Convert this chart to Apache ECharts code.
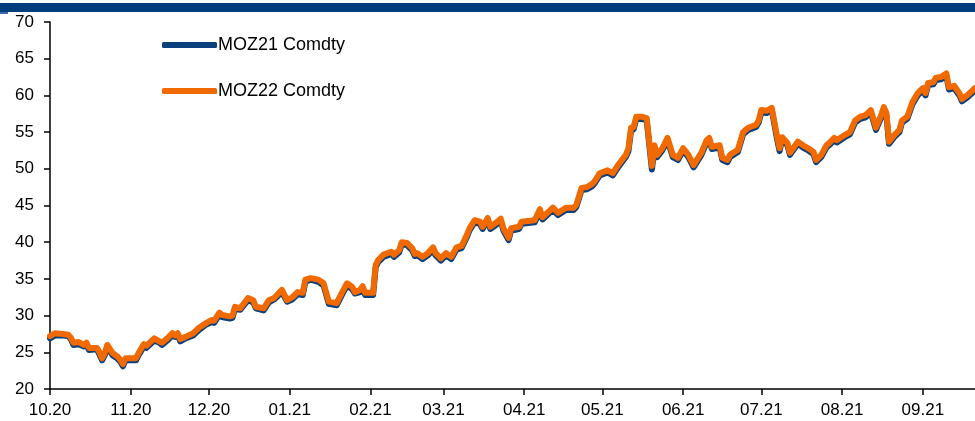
<!DOCTYPE html>
<html lang="en">

<head>
  <meta charset="UTF-8">
  <title>MOZ21 / MOZ22</title>
  <style>
    html, body { margin: 0; padding: 0; background: #fff; }
  </style>
</head>

<body>
  <div id="main" style="width: 975px;height:421px;"></div>

  <script src="https://cdn.jsdelivr.net/npm/echarts@6.0.0/dist/echarts.min.js"></script>

  <script type="text/javascript">
    // dates of the read-off points, one line per month
    var dates = [
      '2020-10-01', '2020-10-03', '2020-10-06', '2020-10-08', '2020-10-09', '2020-10-10', '2020-10-12', '2020-10-14', '2020-10-15', '2020-10-16', '2020-10-19', '2020-10-20', '2020-10-21', '2020-10-22', '2020-10-23', '2020-10-25', '2020-10-27', '2020-10-28', '2020-10-29', '2020-10-30',
      '2020-11-03', '2020-11-04', '2020-11-06', '2020-11-07', '2020-11-10', '2020-11-12', '2020-11-13', '2020-11-15', '2020-11-17', '2020-11-18', '2020-11-19', '2020-11-20', '2020-11-22', '2020-11-25', '2020-11-27', '2020-11-30',
      '2020-12-02', '2020-12-03', '2020-12-05', '2020-12-06', '2020-12-09', '2020-12-10', '2020-12-11', '2020-12-13', '2020-12-16', '2020-12-18', '2020-12-19', '2020-12-22', '2020-12-24', '2020-12-26', '2020-12-29', '2020-12-31',
      '2021-01-02', '2021-01-04', '2021-01-06', '2021-01-07', '2021-01-09', '2021-01-12', '2021-01-14', '2021-01-16', '2021-01-19', '2021-01-21', '2021-01-23', '2021-01-25', '2021-01-26', '2021-01-28', '2021-01-29', '2021-01-30',
      '2021-02-02', '2021-02-03', '2021-02-04', '2021-02-06', '2021-02-09', '2021-02-10', '2021-02-12', '2021-02-13', '2021-02-15', '2021-02-17', '2021-02-18', '2021-02-19', '2021-02-21', '2021-02-23', '2021-02-25', '2021-02-26', '2021-02-28',
      '2021-03-02', '2021-03-04', '2021-03-06', '2021-03-08', '2021-03-10', '2021-03-11', '2021-03-13', '2021-03-15', '2021-03-16', '2021-03-18', '2021-03-19', '2021-03-21', '2021-03-23', '2021-03-24', '2021-03-26', '2021-03-27', '2021-03-30', '2021-03-31',
      '2021-04-05', '2021-04-07', '2021-04-08', '2021-04-12', '2021-04-14', '2021-04-17', '2021-04-20', '2021-04-21', '2021-04-23', '2021-04-25', '2021-04-27', '2021-04-28', '2021-04-30',
      '2021-05-03', '2021-05-05', '2021-05-07', '2021-05-10', '2021-05-11', '2021-05-12', '2021-05-13', '2021-05-14', '2021-05-16', '2021-05-18', '2021-05-20', '2021-05-21', '2021-05-22', '2021-05-24', '2021-05-26', '2021-05-28', '2021-05-30',
      '2021-06-01', '2021-06-03', '2021-06-05', '2021-06-08', '2021-06-10', '2021-06-11', '2021-06-12', '2021-06-15', '2021-06-16', '2021-06-18', '2021-06-19', '2021-06-22', '2021-06-24', '2021-06-26', '2021-06-29', '2021-06-30',
      '2021-07-01', '2021-07-03', '2021-07-05', '2021-07-07', '2021-07-08', '2021-07-09', '2021-07-11', '2021-07-12', '2021-07-15', '2021-07-17', '2021-07-19', '2021-07-21', '2021-07-22', '2021-07-24', '2021-07-26', '2021-07-27', '2021-07-29', '2021-07-30',
      '2021-08-02', '2021-08-04', '2021-08-06', '2021-08-08', '2021-08-10', '2021-08-12', '2021-08-14', '2021-08-16', '2021-08-17', '2021-08-18', '2021-08-19', '2021-08-21', '2021-08-23', '2021-08-24', '2021-08-26', '2021-08-28', '2021-08-30',
      '2021-09-01', '2021-09-02', '2021-09-03', '2021-09-05', '2021-09-06', '2021-09-08', '2021-09-10', '2021-09-11', '2021-09-13', '2021-09-15', '2021-09-16', '2021-09-18', '2021-09-21'
    ];

    var moz21 = [
      26.9, 27.3, 27.3, 27.2, 26.8, 26.0, 26.1, 25.8, 26.0, 25.3, 25.4, 24.7, 23.9, 24.6, 25.7, 24.6, 24.1, 23.7, 23.1, 23.9,
      23.9, 24.6, 25.8, 25.6, 26.6, 26.3, 26.0, 26.6, 27.3, 27.1, 27.4, 26.5, 26.9, 27.3, 28.0, 28.8,
      29.1, 29.0, 30.1, 29.8, 29.6, 29.7, 30.9, 30.8, 32.1, 31.8, 31.0, 30.7, 31.8, 32.2, 33.2, 31.9,
      32.2, 32.9, 32.8, 34.6, 34.9, 34.6, 34.1, 31.6, 31.4, 32.8, 34.1, 33.6, 33.0, 33.2, 33.7, 32.8,
      32.8, 36.6, 37.3, 38.0, 38.4, 38.0, 38.6, 39.7, 39.6, 38.9, 38.1, 38.2, 37.7, 38.2, 39.0, 38.2, 37.5,
      38.2, 37.7, 39.0, 39.2, 40.7, 41.6, 42.7, 42.5, 41.8, 43.0, 41.8, 42.3, 42.9, 41.6, 40.3, 41.6, 41.8, 42.5,
      42.7, 44.2, 43.1, 44.4, 43.7, 44.4, 44.4, 44.8, 47.1, 47.2, 47.6, 48.0, 49.1,
      49.5, 49.1, 50.2, 51.6, 52.4, 55.2, 55.4, 56.8, 56.8, 56.6, 49.9, 52.8, 51.6, 52.5, 53.9, 51.6, 51.2,
      52.5, 51.6, 50.2, 51.9, 53.6, 53.9, 52.7, 52.9, 51.2, 50.9, 51.6, 52.3, 54.7, 55.3, 55.7, 56.3,
      57.7, 57.6, 58.0, 54.1, 52.4, 54.0, 53.2, 51.9, 53.4, 52.9, 52.5, 52.0, 50.9, 51.6, 52.9, 53.2, 53.9, 53.6,
      54.3, 54.7, 56.3, 56.8, 57.0, 57.7, 55.3, 57.0, 58.1, 57.3, 53.4, 54.3, 55.0, 56.3, 56.8, 58.8, 60.0,
      60.7, 60.0, 61.4, 61.5, 62.1, 62.2, 62.7, 60.8, 61.0, 60.0, 59.2, 59.7, 60.7
    ];

    var moz22 = [
      27.2, 27.6, 27.5, 27.4, 27.0, 26.3, 26.4, 26.0, 26.3, 25.6, 25.6, 25.0, 24.2, 24.9, 26.0, 24.9, 24.4, 24.0, 23.4, 24.2,
      24.2, 24.9, 26.1, 25.9, 26.9, 26.5, 26.3, 26.9, 27.6, 27.3, 27.6, 26.8, 27.1, 27.6, 28.3, 29.0,
      29.4, 29.3, 30.4, 30.1, 29.9, 30.0, 31.2, 31.0, 32.4, 32.1, 31.2, 31.0, 32.1, 32.4, 33.5, 32.1,
      32.5, 33.2, 33.1, 34.9, 35.1, 34.9, 34.4, 31.9, 31.7, 33.1, 34.4, 33.9, 33.2, 33.5, 34.0, 33.1,
      33.1, 36.9, 37.6, 38.3, 38.7, 38.3, 38.9, 40.0, 39.9, 39.2, 38.4, 38.5, 38.0, 38.5, 39.3, 38.5, 37.8,
      38.5, 38.0, 39.3, 39.5, 41.0, 41.9, 43.0, 42.8, 42.1, 43.3, 42.1, 42.6, 43.2, 41.9, 40.6, 41.9, 42.1, 42.8,
      43.0, 44.5, 43.4, 44.7, 44.0, 44.7, 44.7, 45.1, 47.4, 47.5, 47.9, 48.3, 49.4,
      49.8, 49.4, 50.5, 51.9, 52.8, 55.6, 55.7, 57.1, 57.1, 56.9, 50.4, 53.2, 51.9, 52.8, 54.2, 51.9, 51.5,
      52.8, 51.9, 50.5, 52.2, 53.9, 54.2, 53.0, 53.2, 51.5, 51.2, 51.9, 52.6, 55.0, 55.6, 56.0, 56.6,
      58.0, 57.9, 58.3, 54.5, 52.8, 54.3, 53.5, 52.2, 53.7, 53.2, 52.8, 52.3, 51.2, 51.9, 53.2, 53.5, 54.2, 53.9,
      54.6, 55.0, 56.6, 57.1, 57.3, 58.0, 55.6, 57.3, 58.4, 57.6, 53.7, 54.6, 55.3, 56.6, 57.1, 59.1, 60.3,
      61.0, 60.3, 61.7, 61.8, 62.4, 62.5, 63.0, 61.1, 61.3, 60.3, 59.5, 60.0, 61.0
    ];

    var tickDates = ['2020-10-01', '2020-11-01', '2020-12-01', '2021-01-01', '2021-02-01', '2021-03-01',
      '2021-04-01', '2021-05-01', '2021-06-01', '2021-07-01', '2021-08-01', '2021-09-01'];
    var tickLabels = ['10.20', '11.20', '12.20', '01.21', '02.21', '03.21',
      '04.21', '05.21', '06.21', '07.21', '08.21', '09.21'];

    var names = ['MOZ21 Comdty', 'MOZ22 Comdty'];
    var colors = ['#0b3f7e', '#f06a00'];
    var font = 'Liberation Sans, Arial, sans-serif';

    // days since start, used as a plain value axis
    var DAY = 24 * 3600 * 1000;
    var t0 = Date.UTC(2020, 9, 1);
    function dayOf(s) {
      var p = s.split('-');
      return Math.round((Date.UTC(+p[0], +p[1] - 1, +p[2]) - t0) / DAY);
    }
    var tickValues = tickDates.map(dayOf);

    var myChart = echarts.init(document.getElementById('main'));

    var option = {
      animation: false,
      textStyle: { fontFamily: font, color: '#000' },
      graphic: [
        { type: 'rect', shape: { x: 0, y: 3, width: 975, height: 9 }, style: { fill: '#003d7c' } },
        { type: 'rect', shape: { x: 0, y: 12, width: 8, height: 2 }, style: { fill: '#3a6bb0' } }
      ],
      legend: [0, 1].map(function (i) {
        return {
          data: [names[i]],
          left: 162,
          top: 36 + i * 46,
          padding: 0,
          icon: 'roundRect',
          itemWidth: 55,
          itemHeight: 6,
          itemGap: 0,
          textStyle: { fontFamily: font, fontSize: 18, color: '#000', padding: [0, 0, 0, -4] }
        };
      }),
      grid: {
        left: 50,
        right: 0,
        top: 22,
        bottom: 32
      },
      xAxis: {
        type: 'value',
        min: 0,
        max: dayOf('2021-09-21'),
        axisLine: { show: true, onZero: false, lineStyle: { color: '#000', width: 1.5 } },
        axisTick: {
          show: true,
          length: 6,
          customValues: tickValues,
          lineStyle: { color: '#000', width: 1.5 }
        },
        axisLabel: {
          customValues: tickValues,
          margin: 13,
          fontSize: 17,
          color: '#000',
          fontFamily: font,
          formatter: function (v) {
            var idx = tickValues.indexOf(Math.round(v));
            return idx >= 0 ? tickLabels[idx] : '';
          }
        },
        splitLine: { show: false }
      },
      yAxis: {
        type: 'value',
        min: 20,
        max: 70,
        interval: 5,
        axisLine: { show: true, lineStyle: { color: '#000', width: 1.5 } },
        axisTick: { show: true, length: 6, lineStyle: { color: '#000', width: 1.5 } },
        axisLabel: { fontSize: 17, color: '#000', margin: 16, fontFamily: font },
        splitLine: { show: false }
      },
      series: [0, 1].map(function (i) {
        var vals = i === 0 ? moz21 : moz22;
        return {
          name: names[i],
          type: 'line',
          showSymbol: false,
          symbol: 'none',
          color: colors[i],
          lineStyle: { width: 6, color: colors[i], join: 'round', cap: 'round' },
          data: dates.map(function (d, k) { return [dayOf(d), vals[k]]; })
        };
      })
    };

    myChart.setOption(option);
  </script>
</body>

</html>
